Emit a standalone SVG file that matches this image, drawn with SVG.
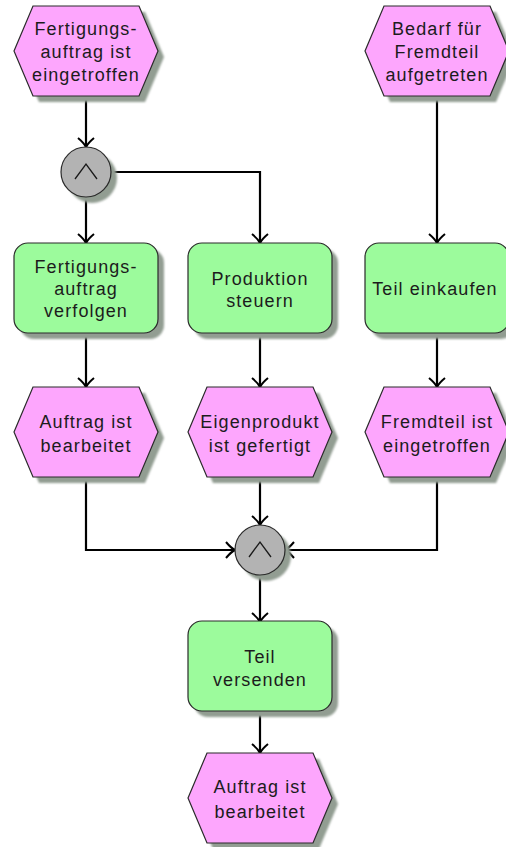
<svg xmlns="http://www.w3.org/2000/svg" width="506" height="847" viewBox="0 0 506 847">
  <style>
    .ev { fill: #fda6fd; stroke: #2a2a2a; stroke-width: 1.2; }
    .fn { fill: #9cfb9c; stroke: #2a2a2a; stroke-width: 1.2; }
    .op { fill: #b3b3b3; stroke: #2a2a2a; stroke-width: 1.2; }
    .sh { fill: #929d92; stroke: none; filter: url(#soft); }
    .sym { fill: none; stroke: #1a1a1a; stroke-width: 1.3; }
    .lbl { font-family: "Liberation Sans", Arial, sans-serif; font-size: 18px; letter-spacing: 1.1px; fill: #1c1c1c; text-anchor: middle; }
    .conn path { fill: none; stroke: #000; stroke-width: 2.2; marker-end: url(#arr); }
  </style>
  <defs>
    <filter id="soft" x="-10%" y="-10%" width="130%" height="130%">
      <feGaussianBlur stdDeviation="1"/>
    </filter>
    <marker id="arr" viewBox="-12 -10 14 20" refX="0" refY="0" markerWidth="14" markerHeight="20" markerUnits="userSpaceOnUse" orient="auto">
      <path d="M-9,-8 Q-4,-2 0,0 Q-4,2 -9,8" fill="none" stroke="#000" stroke-width="2"/>
    </marker>
    <!-- event hexagon, 144 x 90, origin top-left -->
    <polygon id="hex" points="19,0 125,0 144,45 125,90 19,90 0,45"/>
    <rect id="box" x="0" y="0" width="144" height="90" rx="14" ry="14"/>
  </defs>

  <rect width="506" height="847" fill="#fff"/>

  <!-- connectors -->
  <g class="conn">
    <path d="M86,95 V147"/>
    <path d="M86,197 V243"/>
    <path d="M111,172 H260 V243"/>
    <path d="M437,95 V243"/>
    <path d="M86,333 V387"/>
    <path d="M260,333 V387"/>
    <path d="M437,333 V387"/>
    <path d="M86,477 V550 H235"/>
    <path d="M260,477 V525"/>
    <path d="M437,477 V550 H285"/>
    <path d="M260,575 V622"/>
    <path d="M260,710 V753"/>
  </g>

  <!-- events and functions -->
  <g id="ev-fertigungsauftrag" transform="translate(14,6)">
    <use href="#hex" class="sh" transform="translate(6,6)"/>
    <use href="#hex" class="ev"/>
    <text class="lbl" x="72" y="29">Fertigungs-</text>
    <text class="lbl" x="72" y="52">auftrag ist</text>
    <text class="lbl" x="72" y="75">eingetroffen</text>
  </g>

  <g id="ev-bedarf" transform="translate(365,6)">
    <use href="#hex" class="sh" transform="translate(6,6)"/>
    <use href="#hex" class="ev"/>
    <text class="lbl" x="72" y="29">Bedarf für</text>
    <text class="lbl" x="72" y="52">Fremdteil</text>
    <text class="lbl" x="72" y="75">aufgetreten</text>
  </g>

  <g id="and-split" transform="translate(86,172)">
    <circle cx="6" cy="6" r="25" class="sh"/>
    <circle cx="0" cy="0" r="25" class="op"/>
    <polyline class="sym" points="-11,7 0,-8 11,7"/>
  </g>

  <g id="fn-verfolgen" transform="translate(14,243)">
    <use href="#box" class="sh" transform="translate(6,6)"/>
    <use href="#box" class="fn"/>
    <text class="lbl" x="72" y="30">Fertigungs-</text>
    <text class="lbl" x="72" y="52">auftrag</text>
    <text class="lbl" x="72" y="74">verfolgen</text>
  </g>

  <g id="fn-steuern" transform="translate(188,243)">
    <use href="#box" class="sh" transform="translate(6,6)"/>
    <use href="#box" class="fn"/>
    <text class="lbl" x="72" y="42">Produktion</text>
    <text class="lbl" x="72" y="64">steuern</text>
  </g>

  <g id="fn-einkaufen" transform="translate(365,243)">
    <use href="#box" class="sh" transform="translate(6,6)"/>
    <use href="#box" class="fn"/>
    <text class="lbl" x="70" y="52">Teil einkaufen</text>
  </g>

  <g id="ev-bearbeitet-1" transform="translate(14,387)">
    <use href="#hex" class="sh" transform="translate(6,6)"/>
    <use href="#hex" class="ev"/>
    <text class="lbl" x="72" y="41">Auftrag ist</text>
    <text class="lbl" x="72" y="65">bearbeitet</text>
  </g>

  <g id="ev-eigenprodukt" transform="translate(188,387)">
    <use href="#hex" class="sh" transform="translate(6,6)"/>
    <use href="#hex" class="ev"/>
    <text class="lbl" x="72" y="41">Eigenprodukt</text>
    <text class="lbl" x="72" y="65">ist gefertigt</text>
  </g>

  <g id="ev-fremdteil" transform="translate(365,387)">
    <use href="#hex" class="sh" transform="translate(6,6)"/>
    <use href="#hex" class="ev"/>
    <text class="lbl" x="72" y="41">Fremdteil ist</text>
    <text class="lbl" x="72" y="65">eingetroffen</text>
  </g>

  <g id="and-join" transform="translate(260,550)">
    <circle cx="6" cy="6" r="25" class="sh"/>
    <circle cx="0" cy="0" r="25" class="op"/>
    <polyline class="sym" points="-11,7 0,-8 11,7"/>
  </g>

  <g id="fn-versenden" transform="translate(188,621)">
    <use href="#box" class="sh" transform="translate(6,6)"/>
    <use href="#box" class="fn"/>
    <text class="lbl" x="72" y="42">Teil</text>
    <text class="lbl" x="72" y="65">versenden</text>
  </g>

  <g id="ev-bearbeitet-2" transform="translate(188,753)">
    <use href="#hex" class="sh" transform="translate(6,6)"/>
    <use href="#hex" class="ev"/>
    <text class="lbl" x="72" y="40">Auftrag ist</text>
    <text class="lbl" x="72" y="65">bearbeitet</text>
  </g>
</svg>
